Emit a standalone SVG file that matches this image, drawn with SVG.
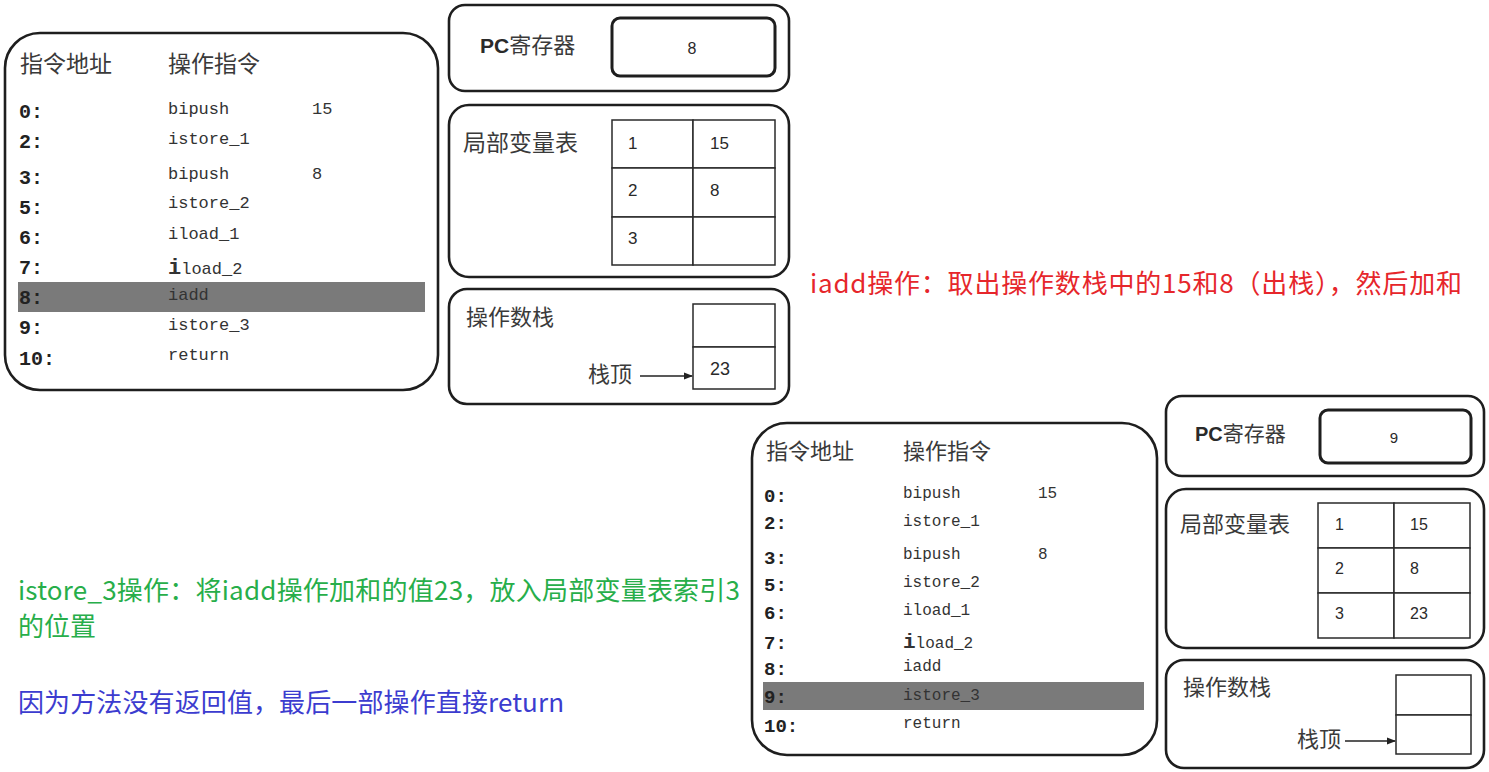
<svg xmlns="http://www.w3.org/2000/svg" width="1489" height="772" viewBox="0 0 1489 772">
<style>
.box{fill:#fff;stroke:#1e1e1e;stroke-width:2.6}
.cell{fill:#fff;stroke:#2a2a2a;stroke-width:1.5}
.inner{fill:#fff;stroke:#1e1e1e;stroke-width:3}
.cjk{font-family:"Noto Sans CJK SC","Liberation Sans",sans-serif;fill:#3a3a3a}
.pc{font-family:"Liberation Sans","Noto Sans CJK SC",sans-serif;fill:#2a2a2a;font-weight:bold}
.addr{font-family:"Liberation Mono",monospace;font-weight:bold;fill:#222}
.ins{font-family:"Liberation Mono",monospace;fill:#333}
.num{font-family:"Liberation Sans",sans-serif;fill:#2a2a2a}
.note{font-family:"Noto Sans CJK SC","Liberation Sans",sans-serif;font-size:26px}
.hl{fill:#7a7a7a}
.arr{stroke:#222;stroke-width:1.5;fill:none}
</style>
<defs>
<marker id="ah" markerWidth="9" markerHeight="9" refX="8" refY="4.5" orient="auto" markerUnits="userSpaceOnUse">
<path d="M0,1 L9,4.5 L0,8 Z" fill="#222"/>
</marker>
</defs>
<rect width="1489" height="772" fill="#fff"/>

<!-- Panel 1: instruction list -->
<g id="instr1">
<rect class="box" x="5" y="33" width="433" height="357" rx="35"/>
<rect class="hl" x="18" y="282" width="407" height="30"/>
<text class="cjk" x="20" y="72" font-size="23">指令地址</text>
<text class="cjk" x="168" y="72" font-size="23">操作指令</text>
<g class="addr" font-size="20">
<text x="19" y="118">0:</text>
<text x="19" y="148">2:</text>
<text x="19" y="184">3:</text>
<text x="19" y="214">5:</text>
<text x="19" y="244">6:</text>
<text x="19" y="274">7:</text>
<text x="19" y="304">8:</text>
<text x="19" y="334">9:</text>
<text x="19" y="365">10:</text>
</g>
<g class="ins" font-size="17">
<text x="168" y="114">bipush</text>
<text x="312" y="114">15</text>
<text x="168" y="144">istore_1</text>
<text x="168" y="179">bipush</text>
<text x="312" y="179">8</text>
<text x="168" y="208">istore_2</text>
<text x="168" y="239">iload_1</text>
<text x="168" y="274"><tspan font-size="22" font-weight="bold">i</tspan>load_2</text>
<text x="168" y="300">iadd</text>
<text x="168" y="330">istore_3</text>
<text x="168" y="360">return</text>
</g>
</g>

<g id="pc1">
<rect class="box" x="449" y="5" width="340" height="86" rx="16"/>
<rect class="inner" x="612" y="18" width="163" height="58" rx="8"/>
<text class="pc" x="480" y="53" font-size="21">PC<tspan class="cjk" font-weight="normal" fill="#2a2a2a" font-size="22">寄存器</tspan></text>
<text class="num" x="692" y="54" font-size="16" text-anchor="middle">8</text>
</g>

<g id="locals1">
<rect class="box" x="449" y="105" width="340" height="172" rx="20"/>
<rect class="cell" x="612" y="120" width="81" height="48"/>
<rect class="cell" x="693" y="120" width="82" height="48"/>
<rect class="cell" x="612" y="168" width="81" height="49"/>
<rect class="cell" x="693" y="168" width="82" height="49"/>
<rect class="cell" x="612" y="217" width="81" height="48"/>
<rect class="cell" x="693" y="217" width="82" height="48"/>
<text class="cjk" x="463" y="151" font-size="23">局部变量表</text>
<g class="num" font-size="17">
<text x="628" y="149">1</text>
<text x="710" y="149">15</text>
<text x="628" y="196">2</text>
<text x="710" y="196">8</text>
<text x="628" y="244">3</text>
</g>
</g>

<g id="stack1">
<rect class="box" x="449" y="289" width="340" height="115" rx="18"/>
<rect class="cell" x="693" y="304" width="82" height="43"/>
<rect class="cell" x="693" y="347" width="82" height="42"/>
<text class="cjk" x="466" y="325" font-size="22">操作数栈</text>
<text class="cjk" x="588" y="382" font-size="22">栈顶</text>
<text class="num" x="710" y="375" font-size="18">23</text>
</g>

<!-- Panel 2 -->
<g id="instr2">
<rect class="box" x="752" y="423" width="405" height="332" rx="35"/>
<rect class="hl" x="763" y="682" width="381" height="28"/>
<text class="cjk" x="766" y="459" font-size="22">指令地址</text>
<text class="cjk" x="903" y="459" font-size="22">操作指令</text>
<g class="addr" font-size="19">
<text x="764" y="502">0:</text>
<text x="764" y="529">2:</text>
<text x="764" y="564">3:</text>
<text x="764" y="591">5:</text>
<text x="764" y="619">6:</text>
<text x="764" y="649">7:</text>
<text x="764" y="675">8:</text>
<text x="764" y="703">9:</text>
<text x="764" y="732">10:</text>
</g>
<g class="ins" font-size="16">
<text x="903" y="498">bipush</text>
<text x="1038" y="498">15</text>
<text x="903" y="526">istore_1</text>
<text x="903" y="559">bipush</text>
<text x="1038" y="559">8</text>
<text x="903" y="587">istore_2</text>
<text x="903" y="615">iload_1</text>
<text x="903" y="648"><tspan font-size="21" font-weight="bold">i</tspan>load_2</text>
<text x="903" y="671">iadd</text>
<text x="903" y="700">istore_3</text>
<text x="903" y="728">return</text>
</g>
</g>

<g id="pc2">
<rect class="box" x="1166" y="396" width="318" height="80" rx="16"/>
<rect class="inner" x="1320" y="410" width="151" height="53" rx="8"/>
<text class="pc" x="1195" y="441" font-size="20">PC<tspan class="cjk" font-weight="normal" fill="#2a2a2a" font-size="21">寄存器</tspan></text>
<text class="num" x="1394" y="443" font-size="15" text-anchor="middle">9</text>
</g>

<g id="locals2">
<rect class="box" x="1166" y="489" width="318" height="159" rx="20"/>
<rect class="cell" x="1318" y="503" width="76" height="45"/>
<rect class="cell" x="1394" y="503" width="76" height="45"/>
<rect class="cell" x="1318" y="548" width="76" height="45"/>
<rect class="cell" x="1394" y="548" width="76" height="45"/>
<rect class="cell" x="1318" y="593" width="76" height="45"/>
<rect class="cell" x="1394" y="593" width="76" height="45"/>
<text class="cjk" x="1180" y="532" font-size="22">局部变量表</text>
<g class="num" font-size="16">
<text x="1335" y="530">1</text>
<text x="1410" y="530">15</text>
<text x="1335" y="574">2</text>
<text x="1410" y="574">8</text>
<text x="1335" y="619">3</text>
<text x="1410" y="619">23</text>
</g>
</g>

<g id="stack2">
<rect class="box" x="1166" y="660" width="318" height="108" rx="18"/>
<rect class="cell" x="1396" y="675" width="75" height="40"/>
<rect class="cell" x="1396" y="715" width="75" height="39"/>
<text class="cjk" x="1183" y="695" font-size="22">操作数栈</text>
<text class="cjk" x="1297" y="747" font-size="22">栈顶</text>
</g>

<g id="connectors">
<line class="arr" x1="640" y1="376" x2="692" y2="376" marker-end="url(#ah)"/>
<line class="arr" x1="1345" y1="741" x2="1395" y2="741" marker-end="url(#ah)"/>
</g>

<g id="notes">
<text class="note" x="810" y="293" fill="#e6262b" textLength="652" lengthAdjust="spacing">iadd操作：取出操作数栈中的15和8（出栈），然后加和</text>
<text class="note" x="18" y="600" fill="#27ae4a" font-size="25" textLength="722" lengthAdjust="spacing">istore_3操作：将iadd操作加和的值23，放入局部变量表索引3</text>
<text class="note" x="18" y="636" fill="#27ae4a" font-size="25">的位置</text>
<text class="note" x="18" y="712" fill="#3c3ccf" textLength="546" lengthAdjust="spacing">因为方法没有返回值，最后一部操作直接return</text>
</g>
</svg>
